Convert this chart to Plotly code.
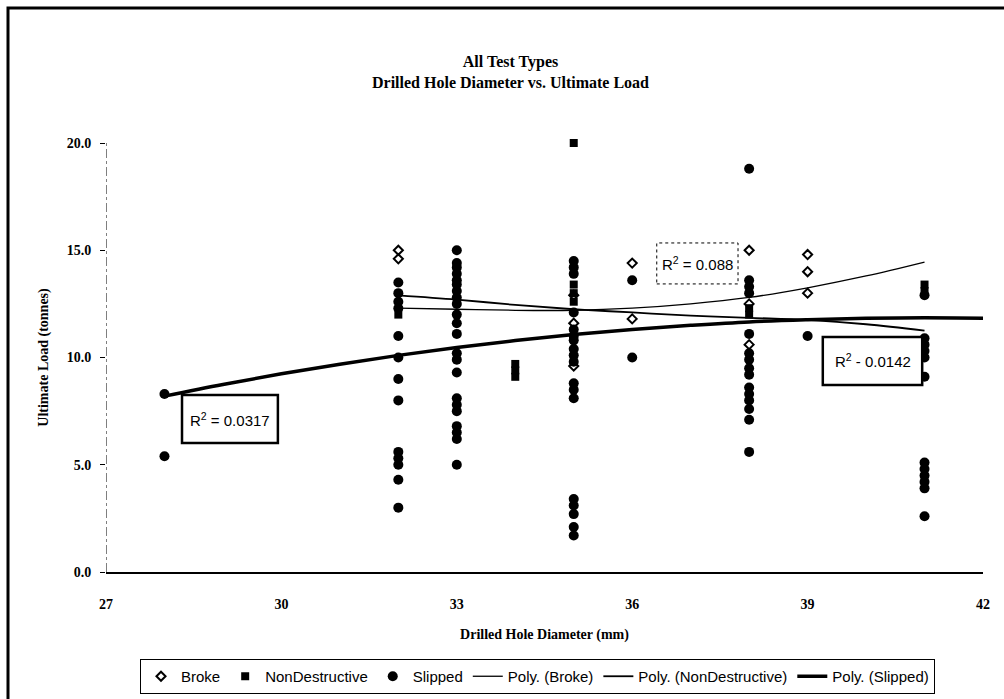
import plotly.graph_objects as go

# ---- measured data: drilled hole diameter (mm) vs ultimate load (tonnes) ----
broke_x = [32, 32, 35, 35, 35, 36, 36, 38, 38, 38, 39, 39, 39]
broke_y = [15.0, 14.6, 12.9, 11.6, 9.6, 14.4, 11.8, 15.0, 12.5, 10.6, 14.8, 14.0, 13.0]

nondestructive_x = [32, 34, 34, 34, 35, 35, 35, 35, 38, 38, 41, 41]
nondestructive_y = [12.0, 9.7, 9.4, 9.1, 20.0, 13.4, 13.0, 12.6, 12.3, 12.0, 13.4, 13.1]

slipped_x = (
    [28, 28]
    + [32] * 13
    + [33] * 22
    + [35] * 18
    + [36, 36]
    + [38] * 15
    + [39]
    + [41] * 12
)
slipped_y = (
    [8.3, 5.4]
    + [13.5, 13.0, 12.6, 12.3, 11.0, 10.0, 9.0, 8.0, 5.6, 5.3, 5.0, 4.3, 3.0]
    + [15.0, 14.4, 14.2, 13.9, 13.6, 13.4, 13.1, 12.8, 12.5, 12.0, 11.6, 11.1,
       10.2, 9.9, 9.3, 8.1, 7.8, 7.5, 6.8, 6.5, 6.2, 5.0]
    + [14.5, 14.2, 13.9, 12.1, 11.3, 11.0, 10.8, 10.4, 10.1, 9.8, 8.8, 8.5, 8.1,
       3.4, 3.1, 2.7, 2.1, 1.7]
    + [13.6, 10.0]
    + [18.8, 13.6, 13.3, 13.0, 11.1, 10.2, 9.9, 9.5, 9.2, 8.6, 8.3, 8.0, 7.6, 7.1, 5.6]
    + [11.0]
    + [12.9, 10.9, 10.6, 10.3, 10.0, 9.1, 5.1, 4.8, 4.5, 4.2, 3.9, 2.6]
)

# ---- polynomial trend lines, sampled at whole millimetres ----
trend_broke_x = [32, 33, 34, 35, 36, 37, 38, 39, 40, 41]
trend_broke_y = [12.3, 12.25, 12.2, 12.2, 12.3, 12.5, 12.8, 13.25, 13.8, 14.45]

trend_nd_x = [32, 33, 34, 35, 36, 37, 38, 39, 40, 41]
trend_nd_y = [12.9, 12.7, 12.45, 12.25, 12.1, 11.95, 11.85, 11.75, 11.55, 11.25]

trend_slip_x = [28, 29, 30, 31, 32, 33, 34, 35, 36, 37, 38, 39, 40, 41, 42]
trend_slip_y = [8.2, 8.74, 9.24, 9.69, 10.1, 10.47, 10.79, 11.07, 11.31, 11.5,
                11.66, 11.76, 11.83, 11.85, 11.83]

# ---- axis ticks ----
x_ticks = [27, 30, 33, 36, 39, 42]
y_ticks = [0, 5, 10, 15, 20]

r2_labels = ["R<sup>2</sup> = 0.0317", "R<sup>2</sup> = 0.088", "R<sup>2</sup> - 0.0142"]

SERIF = "Liberation Serif, Times New Roman, serif"
SANS = "Liberation Sans, Arial, sans-serif"

fig = go.Figure()

fig.add_trace(go.Scatter(
    x=broke_x, y=broke_y, mode="markers", name="Broke", cliponaxis=False,
    marker=dict(symbol="diamond-open", size=7, color="black", line=dict(width=2)),
))
fig.add_trace(go.Scatter(
    x=nondestructive_x, y=nondestructive_y, mode="markers", name="NonDestructive",
    cliponaxis=False,
    marker=dict(symbol="square", size=8, color="black"),
))
fig.add_trace(go.Scatter(
    x=slipped_x, y=slipped_y, mode="markers", name="Slipped", cliponaxis=False,
    marker=dict(symbol="circle", size=10, color="black"),
))
fig.add_trace(go.Scatter(
    x=trend_broke_x, y=trend_broke_y, mode="lines", name="Poly. (Broke)",
    line=dict(color="black", width=1.3, shape="spline"),
))
fig.add_trace(go.Scatter(
    x=trend_nd_x, y=trend_nd_y, mode="lines", name="Poly. (NonDestructive)",
    line=dict(color="black", width=1.8, shape="spline"),
))
fig.add_trace(go.Scatter(
    x=trend_slip_x, y=trend_slip_y, mode="lines", name="Poly. (Slipped)",
    line=dict(color="black", width=3.5, shape="spline"),
))

shapes = [
    # dashed vertical value axis
    dict(type="line", xref="x", yref="y", x0=27, x1=27, y0=0, y1=20,
         line=dict(color="black", width=1, dash="dashdot")),
    # R² label frames
    dict(type="rect", xref="x", yref="y", x0=28.30, x1=29.94, y0=6.01, y1=8.25,
         line=dict(color="black", width=2.5), fillcolor="white", layer="above"),
    dict(type="rect", xref="x", yref="y", x0=36.42, x1=37.81, y0=13.43, y1=15.34,
         line=dict(color="black", width=1, dash="dot"), fillcolor="white", layer="above"),
    dict(type="rect", xref="x", yref="y", x0=39.26, x1=40.96, y0=8.72, y1=10.96,
         line=dict(color="black", width=2.5), fillcolor="white", layer="above"),
    # outer chart frame
    dict(type="rect", xref="paper", yref="paper",
         x0=(8 - 106) / 877, x1=(1020 - 106) / 877,
         y0=(572 - 710) / 429, y1=(572 - 8) / 429,
         line=dict(color="black", width=3), layer="below"),
]

annotations = [
    dict(x=29.12, y=7.13, xref="x", yref="y", text=r2_labels[0], showarrow=False,
         font=dict(family=SANS, size=15, color="black")),
    dict(x=37.12, y=14.38, xref="x", yref="y", text=r2_labels[1], showarrow=False,
         font=dict(family=SANS, size=15, color="black")),
    dict(x=40.11, y=9.84, xref="x", yref="y", text=r2_labels[2], showarrow=False,
         font=dict(family=SANS, size=15, color="black")),
    dict(x=(510 - 106) / 877, y=(572 - 72) / 429, xref="paper", yref="paper",
         yanchor="middle",
         text="<b>All Test Types</b><br><b>Drilled Hole Diameter vs. Ultimate Load</b>",
         showarrow=False, align="center",
         font=dict(family=SERIF, size=16, color="black")),
]

fig.update_layout(
    width=1004, height=699,
    margin=dict(l=106, r=21, t=143, b=127, autoexpand=False),
    paper_bgcolor="white", plot_bgcolor="white",
    showlegend=True,
    legend=dict(
        orientation="h", x=(140 - 106) / 877, xanchor="left",
        y=(572 - 659) / 429, yanchor="top",
        font=dict(family=SANS, size=15, color="black"),
        bordercolor="black", borderwidth=1, bgcolor="white",
        itemwidth=30, tracegroupgap=0,
    ),
    shapes=shapes,
    annotations=annotations,
    xaxis=dict(
        range=[27, 42], tickvals=x_ticks, ticktext=[str(v) for v in x_ticks],
        showgrid=False, zeroline=False, showline=True, linecolor="black", linewidth=2,
        ticks="", ticklabelstandoff=18, automargin=False,
        tickfont=dict(family=SERIF, size=14, color="black", weight="bold"),
        title=dict(text="<b>Drilled Hole Diameter (mm)</b>", standoff=18,
                   font=dict(family=SERIF, size=14, color="black")),
    ),
    yaxis=dict(
        range=[0, 20], tickvals=y_ticks, tickformat=".1f",
        showgrid=False, zeroline=False, showline=False, automargin=False,
        ticks="outside", ticklen=5, tickcolor="black", ticklabelstandoff=6,
        tickfont=dict(family=SERIF, size=14, color="black", weight="bold"),
        title=dict(text="<b>Ultimate Load (tonnes)</b>", standoff=14,
                   font=dict(family=SERIF, size=14, color="black")),
    ),
)

fig.write_html("out.html")
